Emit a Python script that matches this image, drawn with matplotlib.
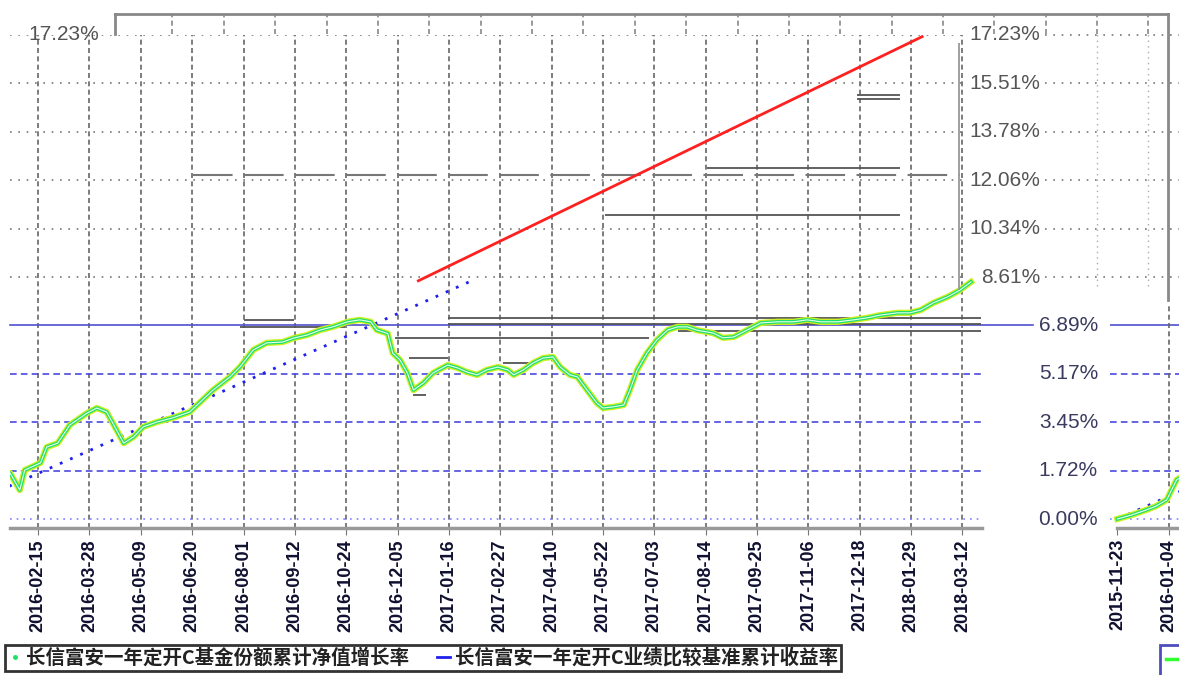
import matplotlib.pyplot as plt
import matplotlib.dates as mdates
import pandas as pd
from matplotlib.lines import Line2D
from matplotlib.font_manager import FontProperties

W, H = 1179, 675

fund_dates = ['2015-11-23', '2015-12-05', '2015-12-15', '2015-12-24', '2016-01-02', '2016-01-10',
              '2016-01-16', '2016-01-23', '2016-01-31', '2016-02-04', '2016-02-17', '2016-02-22',
              '2016-03-02', '2016-03-12', '2016-03-26', '2016-04-03', '2016-04-11', '2016-04-16',
              '2016-04-25', '2016-05-03', '2016-05-11', '2016-05-22', '2016-06-04', '2016-06-18',
              '2016-07-07', '2016-07-21', '2016-07-29', '2016-08-09', '2016-08-20', '2016-09-02',
              '2016-09-11', '2016-09-22', '2016-10-03', '2016-10-13', '2016-10-25', '2016-11-04',
              '2016-11-13', '2016-11-18', '2016-11-27', '2016-12-01', '2016-12-07', '2016-12-13',
              '2016-12-18', '2016-12-26', '2017-01-03', '2017-01-15', '2017-01-23', '2017-01-31',
              '2017-02-08', '2017-02-16', '2017-02-25', '2017-03-05', '2017-03-10', '2017-03-18',
              '2017-03-26', '2017-04-03', '2017-04-11', '2017-04-17', '2017-04-25', '2017-05-01',
              '2017-05-09', '2017-05-17', '2017-05-22', '2017-05-30', '2017-06-08', '2017-06-13',
              '2017-06-19', '2017-06-27', '2017-07-05', '2017-07-14', '2017-07-22', '2017-07-30',
              '2017-08-07', '2017-08-20', '2017-08-28', '2017-09-06', '2017-09-17', '2017-09-28',
              '2017-10-12', '2017-10-25', '2017-11-05', '2017-11-16', '2017-11-30', '2017-12-13',
              '2017-12-24', '2018-01-04', '2018-01-18', '2018-01-28', '2018-02-06', '2018-02-16',
              '2018-02-28', '2018-03-10', '2018-03-19']
fund_values = [0.00, 0.15, 0.30, 0.45, 0.68, 1.39,
               1.55, 1.64, 1.03, 1.74, 2.00, 2.56,
               2.70, 3.35, 3.77, 3.95, 3.81, 3.42,
               2.70, 2.92, 3.28, 3.45, 3.60, 3.81,
               4.59, 5.06, 5.41, 6.02, 6.27, 6.30,
               6.44, 6.55, 6.73, 6.84, 7.02, 7.09,
               7.02, 6.73, 6.60, 5.91, 5.66, 5.20,
               4.59, 4.84, 5.20, 5.48, 5.38, 5.23,
               5.13, 5.31, 5.41, 5.31, 5.13, 5.31,
               5.56, 5.73, 5.77, 5.41, 5.13, 5.06,
               4.59, 4.13, 3.95, 3.99, 4.06, 4.59,
               5.31, 5.91, 6.37, 6.73, 6.84, 6.84,
               6.72, 6.62, 6.45, 6.48, 6.73, 6.98,
               7.02, 7.02, 7.09, 7.02, 7.02, 7.09,
               7.16, 7.26, 7.34, 7.34, 7.44, 7.69,
               7.91, 8.15, 8.44]

bench_dates = ['2015-11-23', '2017-02-02']
bench_values = [0.00, 8.45]

red_dates = ['2016-12-22', '2018-02-07']
red_values = [8.48, 17.17]

tick_dates = ['2015-11-23', '2016-01-04', '2016-02-15', '2016-03-28', '2016-05-09', '2016-06-20',
              '2016-08-01', '2016-09-12', '2016-10-24', '2016-12-05', '2017-01-16', '2017-02-27',
              '2017-04-10', '2017-05-22', '2017-07-03', '2017-08-14', '2017-09-25', '2017-11-06',
              '2017-12-18', '2018-01-29', '2018-03-12']
top_tick_dates = tick_dates[2:] + ['2018-04-23']

lower_levels = [0.00, 1.72, 3.45, 5.17, 6.89]
upper_levels = [8.61, 10.34, 12.06, 13.78, 15.51, 17.23]

# stray grey segments in the picture
seg_start = ['2017-12-16', '2017-12-16', '2017-08-15', '2017-05-24', '2016-08-01', '2016-07-29',
             '2017-01-15', '2017-01-15', '2016-12-03', '2016-12-14', '2017-03-01', '2016-12-18',
             '2017-07-22']
seg_end = ['2018-01-20', '2018-01-20', '2018-01-20', '2018-01-20', '2016-09-11', '2016-10-23',
           '2018-03-27', '2018-03-27', '2017-06-29', '2017-01-15', '2017-03-24', '2016-12-28',
           '2018-03-27']
seg_value = [15.10, 14.95, 12.50, 10.83, 7.09, 6.84,
             7.16, 6.95, 6.45, 5.73, 5.56, 4.40,
             6.70]
dash_seg = ('2016-06-21', '2018-03-10', 12.25)

legend_labels = ['长信富安一年定开C基金份额累计净值增长率', '长信富安一年定开C业绩比较基准累计收益率']

fund_x = pd.to_datetime(fund_dates)
bench_x = pd.to_datetime(bench_dates)
ticks = pd.to_datetime(tick_dates)
ymin, ymax = -0.32, 17.23

tick_font = dict(family='Liberation Sans', weight='bold', size=13)


def draw_fund(axis):
    axis.plot(fund_x, fund_values, color='#d0f020', lw=4.5, zorder=5)
    axis.plot(fund_x, fund_values, color='#20e070', lw=2.6, zorder=6)
    axis.plot(fund_x, fund_values, color='#eaffea', lw=0.8, zorder=7)
    axis.plot(bench_x, bench_values, color='#2020ee', lw=2, ls=(0, (1, 3)), zorder=4)


fig = plt.figure(figsize=(W / 100, H / 100), dpi=100)

# main chart
ax = fig.add_axes([10 / W, 1 - 528 / H, 972 / W, 493 / H])
for s in ['top', 'left', 'right']:
    ax.spines[s].set_visible(False)
ax.spines['bottom'].set_color('#999999')
ax.spines['bottom'].set_linewidth(2.5)
ax.set_yticks([])
ax.set_xticks(ticks[2:])
ax.set_xticklabels(tick_dates[2:], rotation=90, color='#101030', **tick_font)
ax.tick_params(axis='x', length=5, color='#777777', pad=3)

ax.vlines(ticks[2:], ymin, ymax, color='#666666', lw=1.2, ls=(0, (3, 2)), zorder=1)
yt = ax.get_yaxis_transform()
for v in lower_levels[1:4]:
    ax.axhline(v, color='#4a4ae0', lw=1.2, ls=(0, (4, 2.5)), zorder=1)
ax.axhline(0, color='#8080ff', lw=1.2, ls=(0, (1, 3)), zorder=1)
ax.plot([0, 1.052], [6.89, 6.89], color='#5050d0', lw=1.2, transform=yt, clip_on=False, zorder=1)
ax.hlines(upper_levels, 0, 0.985, color='#777777', lw=1.2, ls=(0, (1, 4)), transform=yt, zorder=1)
ax.hlines(upper_levels, 1.065, 1.21, color='#777777', lw=1.2, ls=(0, (1, 4)), transform=yt, clip_on=False)

ax.hlines(seg_value, pd.to_datetime(seg_start), pd.to_datetime(seg_end), color='#555555', lw=1.3, zorder=2)
ax.hlines(dash_seg[2], pd.Timestamp(dash_seg[0]), pd.Timestamp(dash_seg[1]), color='#777777', lw=1.5,
          ls=(0, (19, 5.5)), zorder=2)

ax.plot(pd.to_datetime(red_dates), red_values, color='#ff2020', lw=2, zorder=4)
draw_fund(ax)
ax.set_xlim(pd.Timestamp('2016-01-23'), pd.Timestamp('2018-03-28'))
ax.set_ylim(ymin, ymax)

for v in lower_levels:
    ax.text((1098 - 10) / 972, v, f'{v:.2f}%', transform=yt, ha='right', va='center',
            fontsize=15, family='Liberation Sans', color='#3a3a60', clip_on=False)
for v in upper_levels:
    ax.text((1040 - 10) / 972, v, f'{v:.2f}%', transform=yt, ha='right', va='center',
            fontsize=15, family='Liberation Sans', color='#555555', clip_on=False)
ax.text((28 - 10) / 972, 17.23, '17.23%', transform=yt, ha='left', va='center',
        fontsize=15, family='Liberation Sans', color='#555555')

# start of the series, wrapped to the right edge
ax_in = fig.add_axes([1110 / W, 1 - 528 / H, 69 / W, 493 / H])
ax_in.patch.set_alpha(0)
for s in ['top', 'left', 'right']:
    ax_in.spines[s].set_visible(False)
ax_in.spines['bottom'].set_color('#999999')
ax_in.spines['bottom'].set_linewidth(2.5)
ax_in.spines['bottom'].set_bounds(mdates.date2num(ticks[0]), mdates.date2num(pd.Timestamp('2016-01-12')))
ax_in.set_yticks([])
ax_in.set_xticks(ticks[:2])
ax_in.set_xticklabels(tick_dates[:2], rotation=90, color='#101030', **tick_font)
ax_in.tick_params(axis='x', length=5, color='#777777', pad=3)
for v in lower_levels[1:4]:
    ax_in.axhline(v, color='#4a4ae0', lw=1.2, ls=(0, (4, 2.5)))
ax_in.axhline(0, color='#8080ff', lw=1.2, ls=(0, (1, 3)))
ax_in.axhline(6.89, color='#5050d0', lw=1.2)
ax_in.vlines(ticks[1], ymin, 7.7, color='#666666', lw=1.2, ls=(0, (3, 2)))
draw_fund(ax_in)
ax_in.set_xlim(pd.Timestamp('2015-11-17'), pd.Timestamp('2016-01-12'))
ax_in.set_ylim(ymin, ymax)

# outer frame at the top
ax_top = fig.add_axes([115 / W, 1 - 300 / H, 1053 / W, 286 / H])
ax_top.patch.set_alpha(0)
ax_top.set_xticks([])
ax_top.set_yticks([])
ax_top.spines['bottom'].set_visible(False)
for s in ['top', 'left', 'right']:
    ax_top.spines[s].set_color('#888888')
    ax_top.spines[s].set_linewidth(2)
ax_top.spines['left'].set_bounds(0.93, 1)
top_ticks = pd.to_datetime(top_tick_dates)
ax_top.vlines(top_ticks, 0.93, 1, color='#888888', lw=1.2, ls=(0, (3, 2)))
ax_top.vlines(top_ticks[-2:], 0.05, 0.93, color='#aaaaaa', lw=1, ls=(0, (1, 3)))
ax_top.vlines(pd.Timestamp('2017-11-19'), 0.035, 0.9, color='#999999', lw=1.3)
ax_top.set_xlim(pd.Timestamp('2015-12-30'), pd.Timestamp('2018-05-09'))
ax_top.set_ylim(0, 1)

# legends
leg_font = FontProperties(family='Noto Sans CJK SC', weight='bold', size=14)
handles = [Line2D([], [], color='#20e060', marker='.', ls='none', markersize=5),
           Line2D([], [], color='#2020ee', lw=2)]
leg = fig.legend(handles, legend_labels, loc='upper left', bbox_to_anchor=(5 / W, 1 - 645 / H),
                 ncol=2, fancybox=False, edgecolor='black', prop=leg_font, handlelength=0.7,
                 handletextpad=0.25, columnspacing=1.4, borderpad=0.15, borderaxespad=0)
leg.get_frame().set_linewidth(2)
for t in leg.get_texts():
    t.set_color('#222222')
leg2 = fig.legend([Line2D([], [], color='#30ff30', lw=2.5)], [' '], loc='upper left',
                  bbox_to_anchor=(1160 / W, 1 - 645 / H), fancybox=False, edgecolor='#2020aa',
                  prop=leg_font, handlelength=1.3, borderpad=0.3, borderaxespad=0)
leg2.get_frame().set_linewidth(2)

fig.savefig('out.png', dpi=100)
